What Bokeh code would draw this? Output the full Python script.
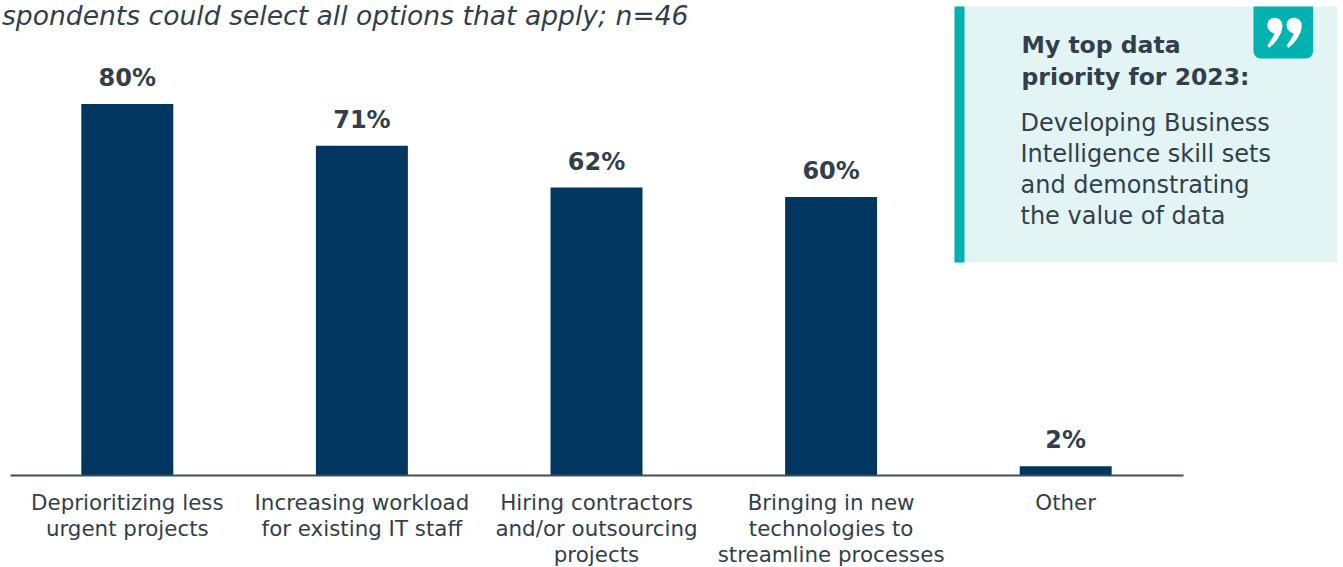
from bokeh.embed import file_html
from bokeh.models import BoxAnnotation, ColumnDataSource, FixedTicker, Label, LinearAxis, PolyAnnotation, Range1d
from bokeh.plotting import figure
from bokeh.resources import INLINE
from bokeh.core.properties import value

categories = [
    "Deprioritizing less\nurgent projects",
    "Increasing workload\nfor existing IT staff",
    "Hiring contractors\nand/or outsourcing\nprojects",
    "Bringing in new\ntechnologies to\nstreamline processes",
    "Other",
]
shares = [80, 71, 62, 60, 2]
share_labels = ["80%", "71%", "62%", "60%", "2%"]
subtitle = "spondents could select all options that apply; n=46"
quote_heading = ["My top data", "priority for 2023:"]
quote_body = ["Developing Business", "Intelligence skill sets", "and demonstrating", "the value of data"]

FONT = "DejaVu Sans"
INK = "#323f4b"
NAVY = "#00365f"
TEAL = "#00b2b0"
PALE = "#e3f4f5"

# One category band is 234.6 px wide and the first band starts 9.5 px from the left edge.
BAND = 234.6
positions = list(range(len(categories)))

# Outline of one closing-quote comma of the panel's icon, in pixels from its top-left corner.
COMMA_X = [0, 4, 7.3, 3.3, 0.7, 0, 1.3, 4.7, 8.7, 12.7, 15, 15.3, 14, 10.7, 6.7, 2]
COMMA_Y = [28, 22, 16, 14, 10.7, 6.7, 2.7, 0.3, 0, 1.7, 5.3, 9.3, 14.7, 20.7, 26, 30]

p = figure(
    width=1343, height=567, frame_width=1343, frame_height=475,
    output_backend="svg", toolbar_location=None,
    x_range=Range1d(-0.5 - 9.5 / BAND, -0.5 + 1333.5 / BAND),
    y_range=Range1d(0, 102.3),
    x_axis_type=None, y_axis_type=None,
    min_border_left=0, min_border_right=0, min_border_top=0, min_border_bottom=0,
    outline_line_color=None, background_fill_color="white", border_fill_color="white",
)
p.grid.visible = False

axis = LinearAxis(
    ticker=FixedTicker(ticks=positions),
    major_label_overrides=dict(zip(positions, categories)),
    bounds=(-0.5, len(categories) - 0.5),
    axis_line_color="#3f4c59",
    axis_line_width=2,
    major_tick_line_color=None,
    minor_tick_line_color=None,
    major_label_standoff=8,
    major_label_text_font=FONT,
    major_label_text_font_size="21.4px",
    major_label_text_color=INK,
    major_label_text_line_height=1.05,
)
p.add_layout(axis, "below")

source = ColumnDataSource(dict(x=positions, share=shares, label=share_labels))
p.vbar(x="x", top="share", width=0.392, bottom=0, source=source, fill_color=NAVY, line_color=None)
p.text(
    x="x", y="share", text="label", source=source, y_offset=-12,
    text_align="center", text_baseline="bottom", text_color=INK,
    text_font=value(FONT), text_font_style="bold", text_font_size="24px",
)

# Quote panel sits over the frame, positioned in canvas pixels.
def box(left, right, top, bottom, color, **kw):
    p.add_layout(BoxAnnotation(
        left=left, right=right, top=top, bottom=bottom,
        left_units="canvas", right_units="canvas", top_units="canvas", bottom_units="canvas",
        fill_color=color, fill_alpha=1, line_color=None, level="underlay", **kw,
    ))

box(954, 1337, 6, 262, PALE)
box(954, 964, 6, 262, TEAL)
box(1253, 1312.5, 6, 58, TEAL, border_radius=(0, 0, 7, 7))

def text(x, y, s, size, style="normal", color=INK, align="left", font=FONT):
    p.add_layout(Label(
        x=x, y=y, x_units="canvas", y_units="canvas", text=s, text_font=font,
        text_font_size=size, text_font_style=style, text_color=color,
        text_align=align, text_baseline="alphabetic",
    ))

text(688, 15, subtitle, "26.6px", style="italic", align="right")
for i, line in enumerate(quote_heading):
    text(1021, 44 + i * 32, line, "23.5px", style="bold")
for i, line in enumerate(quote_body):
    text(1020, 122 + i * 31, line, "24px")

# The two commas of the quote icon.
for left in (1266.7, 1286):
    p.add_layout(PolyAnnotation(
        xs=[left + dx for dx in COMMA_X], ys=[17.3 + dy for dy in COMMA_Y],
        xs_units="canvas", ys_units="canvas",
        fill_color="white", fill_alpha=1, line_color=None,
    ))

open("out.html", "w").write(file_html(p, INLINE))
